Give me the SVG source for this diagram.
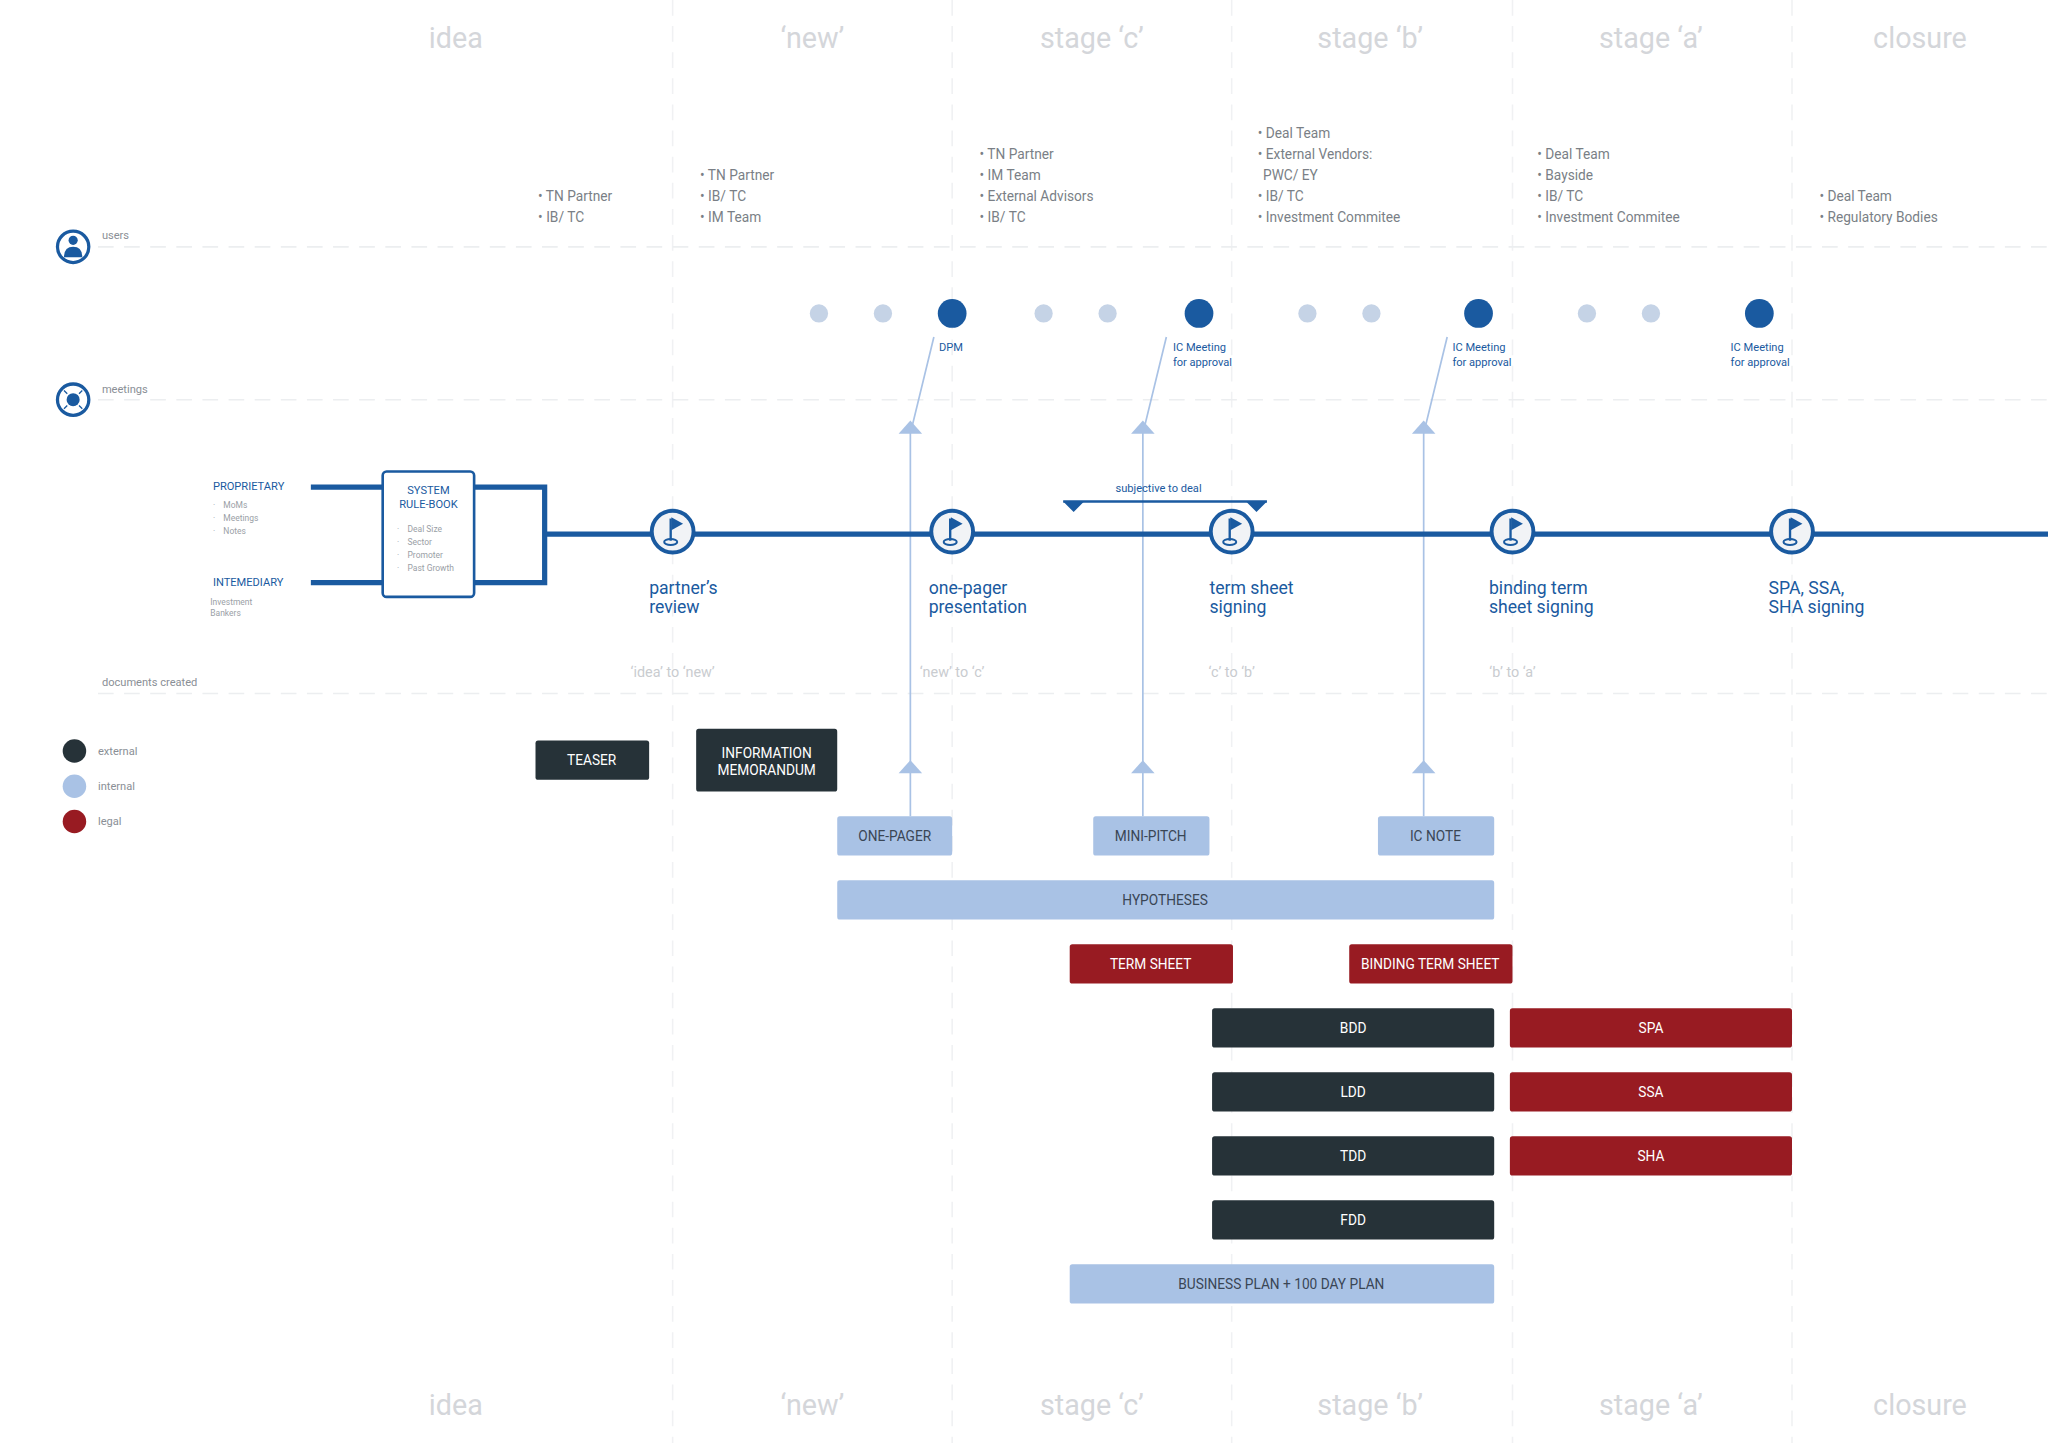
<svg xmlns="http://www.w3.org/2000/svg" width="2048" height="1443" viewBox="0 0 2048 1443">
<defs>
<style>
text{font-family:"Roboto","Liberation Sans",sans-serif}
.hd{font-size:22px;fill:#d4d6da;text-anchor:middle}
.usr{font-size:10.5px;fill:#7a7f86}
.grid{stroke:#eceef0;stroke-width:1.2;stroke-dasharray:12 8;fill:none}
.vgrid{stroke:#f0f1f3;stroke-width:1.2;stroke-dasharray:12 8}
.blue{fill:#1a5aa0}
.bt{font-size:13.5px;fill:#1a5aa0}
.sm{font-size:8.5px;fill:#1a5aa0}
.tr{font-size:11px;fill:#c9ccd0;text-anchor:middle}
.dk{fill:#263238}
.lt{fill:#a9c2e5}
.rd{fill:#981b22}
.bw{font-size:10.5px;fill:#fff;text-anchor:middle}
.bd{font-size:10.5px;fill:#3a4655;text-anchor:middle}
.conn{stroke:#a9c2e5;stroke-width:1.3;fill:none}
.lg{font-size:8.5px;fill:#8a8f96}
.flagc{fill:#f1f3f6;stroke:#1a5aa0;stroke-width:3}
</style>
<g id="flag"><circle r="16" class="flagc"/><path d="M-1.5 -10 V7" stroke="#1a5aa0" stroke-width="1.8"/><path d="M-1 -11 L8 -6 L-1 -1 Z" fill="#1a5aa0"/><ellipse cx="-1.5" cy="8" rx="5" ry="2.3" fill="none" stroke="#1a5aa0" stroke-width="1.5"/></g>
</defs>
<rect width="2048" height="1443" fill="#fff"/>
<g transform="scale(1.30612)">
<g id="grid">
<line class="vgrid" x1="515" y1="0" x2="515" y2="1105"/>
<line class="vgrid" x1="729" y1="0" x2="729" y2="1105"/>
<line class="vgrid" x1="943" y1="0" x2="943" y2="1105"/>
<line class="vgrid" x1="1158" y1="0" x2="1158" y2="1105"/>
<line class="vgrid" x1="1372" y1="0" x2="1372" y2="1105"/>
<line class="grid" x1="75" y1="189" x2="1568" y2="189"/>
<line class="grid" x1="75" y1="306" x2="1568" y2="306"/>
<line class="grid" x1="75" y1="531" x2="1568" y2="531"/>
</g>
<g id="headers">
<text class="hd" x="349" y="37">idea</text><text class="hd" x="622" y="37">‘new’</text><text class="hd" x="836" y="37">stage ‘c’</text><text class="hd" x="1049" y="37">stage ‘b’</text><text class="hd" x="1264" y="37">stage ‘a’</text><text class="hd" x="1470" y="37">closure</text>
<text class="hd" x="349" y="1083">idea</text><text class="hd" x="622" y="1083">‘new’</text><text class="hd" x="836" y="1083">stage ‘c’</text><text class="hd" x="1049" y="1083">stage ‘b’</text><text class="hd" x="1264" y="1083">stage ‘a’</text><text class="hd" x="1470" y="1083">closure</text>
</g>
<g id="row-icons">
<circle cx="56" cy="189" r="12" fill="#fff" stroke="#1a5aa0" stroke-width="2.5"/><circle cx="56" cy="184" r="3.5" class="blue"/><path d="M49 197 Q49 189 56 189 Q63 189 63 197 Z" class="blue"/>
<text x="78" y="183" class="lg">users</text>
<circle cx="56" cy="306" r="12" fill="#fff" stroke="#1a5aa0" stroke-width="2.5"/><circle cx="56" cy="306" r="5" class="blue"/>
<path d="M49 299 L51.5 301.5 M63 299 L60.5 301.5 M49 313 L51.5 310.5 M63 313 L60.5 310.5" stroke="#1a5aa0" stroke-width="1"/>
<text x="78" y="301" class="lg">meetings</text>
<text x="78" y="525" class="lg">documents created</text>
</g>
<g id="users">
<text class="usr" x="412" y="154">• TN Partner</text><text class="usr" x="412" y="170">• IB/ TC</text>
<text class="usr" x="536" y="138">• TN Partner</text><text class="usr" x="536" y="154">• IB/ TC</text><text class="usr" x="536" y="170">• IM Team</text>
<text class="usr" x="750" y="122">• TN Partner</text><text class="usr" x="750" y="138">• IM Team</text><text class="usr" x="750" y="154">• External Advisors</text><text class="usr" x="750" y="170">• IB/ TC</text>
<text class="usr" x="963" y="106">• Deal Team</text><text class="usr" x="963" y="122">• External Vendors:</text><text class="usr" x="967" y="138">PWC/ EY</text><text class="usr" x="963" y="154">• IB/ TC</text><text class="usr" x="963" y="170">• Investment Commitee</text>
<text class="usr" x="1177" y="122">• Deal Team</text><text class="usr" x="1177" y="138">• Bayside</text><text class="usr" x="1177" y="154">• IB/ TC</text><text class="usr" x="1177" y="170">• Investment Commitee</text>
<text class="usr" x="1393" y="154">• Deal Team</text><text class="usr" x="1393" y="170">• Regulatory Bodies</text>
</g>
<g id="meetings">
<g fill="#c5d3e6"><circle cx="627" cy="240" r="7"/><circle cx="676" cy="240" r="7"/><circle cx="799" cy="240" r="7"/><circle cx="848" cy="240" r="7"/><circle cx="1001" cy="240" r="7"/><circle cx="1050" cy="240" r="7"/><circle cx="1215" cy="240" r="7"/><circle cx="1264" cy="240" r="7"/></g>
<g class="blue"><circle cx="729" cy="240" r="11"/><circle cx="918" cy="240" r="11"/><circle cx="1132" cy="240" r="11"/><circle cx="1347" cy="240" r="11"/></g>
<text class="sm" x="719" y="269">DPM</text>
<text class="sm" x="898" y="269">IC Meeting</text><text class="sm" x="898" y="280">for approval</text>
<text class="sm" x="1112" y="269">IC Meeting</text><text class="sm" x="1112" y="280">for approval</text>
<text class="sm" x="1325" y="269">IC Meeting</text><text class="sm" x="1325" y="280">for approval</text>
</g>
<g id="connectors">
<path class="conn" d="M697 625 V332 L715 258"/>
<path class="conn" d="M875 625 V332 L893 258"/>
<path class="conn" d="M1090 625 V332 L1108 258"/>
<g fill="#a9c2e5"><path d="M688 332 L697 322 L706 332 Z"/><path d="M866 332 L875 322 L884 332 Z"/><path d="M1081 332 L1090 322 L1099 332 Z"/>
<path d="M688 592 L697 582 L706 592 Z"/><path d="M866 592 L875 582 L884 592 Z"/><path d="M1081 592 L1090 582 L1099 592 Z"/></g>
</g>
<g id="timeline">
<path d="M238 373 H293 M238 446 H293 M363 373 H417 V446 H363 M417 409 H1568" stroke="#1a5aa0" stroke-width="4" fill="none"/>
<path d="M814 384 H970" stroke="#1a5aa0" stroke-width="2"/>
<path d="M814 384 L830 384 L822 392 Z M954 384 L970 384 L962 392 Z" class="blue"/>
<text class="sm" x="887" y="377" text-anchor="middle">subjective to deal</text>
</g>
<g id="rulebook">
<rect x="293" y="361" width="70" height="96" rx="3" fill="#fff" stroke="#1a5aa0" stroke-width="2"/>
<text class="sm" x="328" y="378" text-anchor="middle">SYSTEM</text><text class="sm" x="328" y="389" text-anchor="middle">RULE-BOOK</text>
<g font-size="6.5" fill="#9aa0a6">
<text x="304" y="407">·</text><text x="312" y="407">Deal Size</text>
<text x="304" y="417">·</text><text x="312" y="417">Sector</text>
<text x="304" y="427">·</text><text x="312" y="427">Promoter</text>
<text x="304" y="437">·</text><text x="312" y="437">Past Growth</text>
<text x="163" y="389">·</text><text x="171" y="389">MoMs</text>
<text x="163" y="399">·</text><text x="171" y="399">Meetings</text>
<text x="163" y="409">·</text><text x="171" y="409">Notes</text>
<text x="161" y="463">Investment</text><text x="161" y="472">Bankers</text></g>
<text class="sm" x="163" y="375">PROPRIETARY</text>
<text class="sm" x="163" y="449">INTEMEDIARY</text>
</g>
<g id="milestones">
<use href="#flag" x="515" y="407"/><use href="#flag" x="729" y="407"/><use href="#flag" x="943" y="407"/><use href="#flag" x="1158" y="407"/><use href="#flag" x="1372" y="407"/>
<text class="bt" x="497" y="455">partner’s</text><text class="bt" x="497" y="469">review</text>
<text class="bt" x="711" y="455">one-pager</text><text class="bt" x="711" y="469">presentation</text>
<text class="bt" x="926" y="455">term sheet</text><text class="bt" x="926" y="469">signing</text>
<text class="bt" x="1140" y="455">binding term</text><text class="bt" x="1140" y="469">sheet signing</text>
<text class="bt" x="1354" y="455">SPA, SSA,</text><text class="bt" x="1354" y="469">SHA signing</text>
<text class="tr" x="515" y="518">‘idea’ to ‘new’</text><text class="tr" x="729" y="518">‘new’ to ‘c’</text><text class="tr" x="943" y="518">‘c’ to ‘b’</text><text class="tr" x="1158" y="518">‘b’ to ‘a’</text>
</g>
<g id="legend">
<circle cx="57" cy="575" r="9" class="dk"/><circle cx="57" cy="602" r="9" fill="#a9c2e5"/><circle cx="57" cy="629" r="9" class="rd"/>
<text class="lg" x="75" y="578">external</text><text class="lg" x="75" y="605">internal</text><text class="lg" x="75" y="632">legal</text>
</g>
<g id="documents">
<rect x="410" y="567" width="87" height="30" rx="2" class="dk"/><text class="bw" x="453" y="586">TEASER</text>
<rect x="533" y="558" width="108" height="48" rx="2" class="dk"/><text class="bw" x="587" y="580">INFORMATION</text><text class="bw" x="587" y="593">MEMORANDUM</text>
<rect x="641" y="625" width="88" height="30" rx="2" class="lt"/><text class="bd" x="685" y="644">ONE-PAGER</text>
<rect x="837" y="625" width="89" height="30" rx="2" class="lt"/><text class="bd" x="881" y="644">MINI-PITCH</text>
<rect x="1055" y="625" width="89" height="30" rx="2" class="lt"/><text class="bd" x="1099" y="644">IC NOTE</text>
<rect x="641" y="674" width="503" height="30" rx="2" class="lt"/><text class="bd" x="892" y="693">HYPOTHESES</text>
<rect x="819" y="723" width="125" height="30" rx="2" class="rd"/><text class="bw" x="881" y="742">TERM SHEET</text>
<rect x="1033" y="723" width="125" height="30" rx="2" class="rd"/><text class="bw" x="1095" y="742">BINDING TERM SHEET</text>
<rect x="928" y="772" width="216" height="30" rx="2" class="dk"/><text class="bw" x="1036" y="791">BDD</text>
<rect x="1156" y="772" width="216" height="30" rx="2" class="rd"/><text class="bw" x="1264" y="791">SPA</text>
<rect x="928" y="821" width="216" height="30" rx="2" class="dk"/><text class="bw" x="1036" y="840">LDD</text>
<rect x="1156" y="821" width="216" height="30" rx="2" class="rd"/><text class="bw" x="1264" y="840">SSA</text>
<rect x="928" y="870" width="216" height="30" rx="2" class="dk"/><text class="bw" x="1036" y="889">TDD</text>
<rect x="1156" y="870" width="216" height="30" rx="2" class="rd"/><text class="bw" x="1264" y="889">SHA</text>
<rect x="928" y="919" width="216" height="30" rx="2" class="dk"/><text class="bw" x="1036" y="938">FDD</text>
<rect x="819" y="968" width="325" height="30" rx="2" class="lt"/><text class="bd" x="981" y="987">BUSINESS PLAN + 100 DAY PLAN</text>
</g>
</g>
</svg>
